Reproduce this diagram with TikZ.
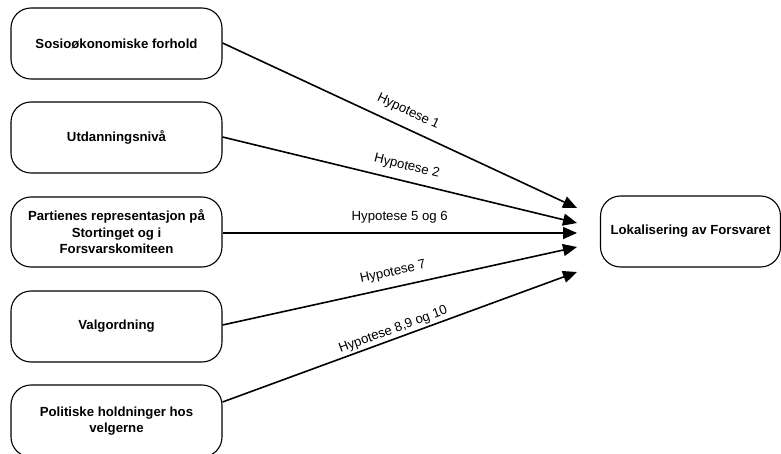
\documentclass[tikz,border=0pt]{standalone}
\usepackage{fontspec}
\setmainfont{Liberation Sans}
\usetikzlibrary{arrows.meta}
\begin{document}
\begin{tikzpicture}[x=1pt,y=-1pt,
  factor/.style={draw, line width=1.1pt, rounded corners=20pt, align=center,
    font=\fontsize{13.2}{16.5}\selectfont\bfseries, inner sep=0pt},
  link/.style={line width=1.6pt, -{Triangle[length=14pt,width=12pt]}},
  hyp/.style={font=\fontsize{13.2}{15}\selectfont, inner sep=0pt, sloped}]
\useasboundingbox (0,0) rectangle (781,454);
% variable boxes (left column)
\node[factor, minimum width=211pt, minimum height=71pt] (a) at (116.5,43.5) {Sosioøkonomiske forhold};
\node[factor, minimum width=211pt, minimum height=71pt] (b) at (116.5,137.5) {Utdanningsnivå};
\node[factor, minimum width=211pt, minimum height=70pt] (c) at (116.5,232) {Partienes representasjon på\\Stortinget og i\\Forsvarskomiteen};
\node[factor, minimum width=211pt, minimum height=71pt] (d) at (116.5,326.5) {Valgordning};
\node[factor, minimum width=211pt, minimum height=72pt] (e) at (116.5,421) {Politiske holdninger hos\\velgerne};
% dependent variable
\node[factor, minimum width=180pt, minimum height=71pt] (f) at (690.5,231.5) {Lokalisering av Forsvaret};
% arrow tips in front of the dependent variable
\coordinate (ta) at (577,208);
\coordinate (tb) at (577,223);
\coordinate (tc) at (577,233);
\coordinate (td) at (577,247);
\coordinate (te) at (577,272);
\draw[link] (a.east |- 0,43) -- (ta) node[hyp, pos=0.505, above=9pt] {Hypotese 1};
\draw[link] (b.east |- 0,137) -- (tb) node[hyp, pos=0.51, above=8pt] {Hypotese 2};
\draw[link] (c.east |- 0,233) -- (tc) node[hyp, pos=0.50, above=9pt] {Hypotese 5 og 6};
\draw[link] (d.east |- 0,325) -- (td) node[hyp, pos=0.49, above=8pt] {Hypotese 7};
\draw[link] (e.east |- 0,402) -- (te) node[hyp, pos=0.49, above=2pt] {Hypotese 8,9 og 10};
\end{tikzpicture}
\end{document}
